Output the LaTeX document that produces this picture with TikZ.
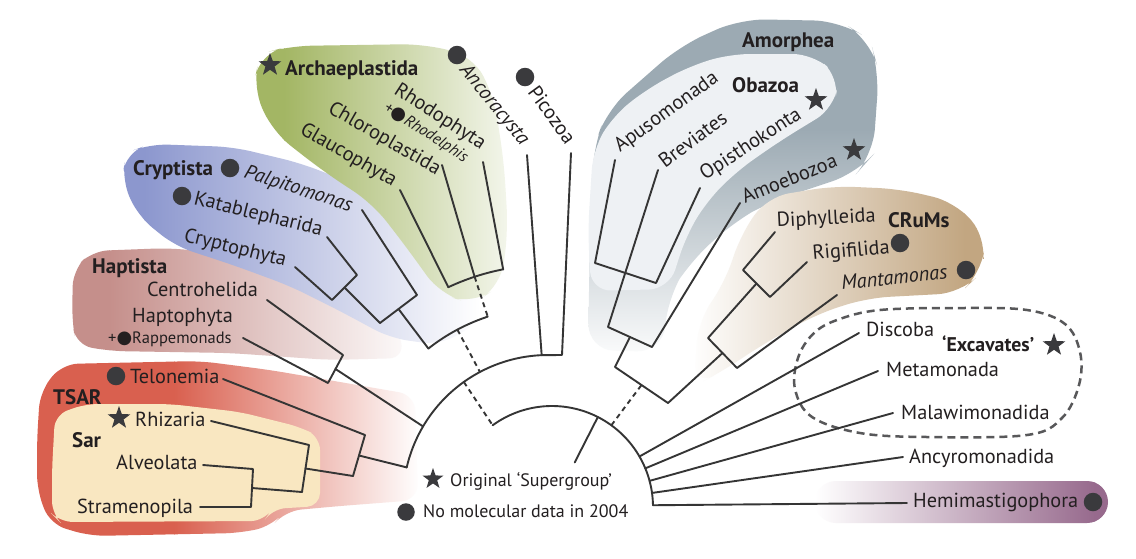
\documentclass[tikz,border=0pt]{standalone}
\usepackage{fontspec}
\setmainfont{PT Sans}
\newfontfamily\dejavu{DejaVu Sans}
\usetikzlibrary{shapes.geometric,calc}
\definecolor{ln}{HTML}{353535}
\definecolor{txt}{HTML}{231F20}
\definecolor{dk}{HTML}{3A3A3D}
\definecolor{tsarred}{HTML}{D9604F}
\definecolor{sarcream}{HTML}{F9E7C1}
\definecolor{hapt}{HTML}{C58F8B}
\definecolor{crypt}{HTML}{8C97CE}
\definecolor{arch}{HTML}{A3B664}
\definecolor{amorph}{HTML}{9CAAB3}
\definecolor{obaz}{HTML}{EEF1F4}
\definecolor{crums}{HTML}{C2A681}
\definecolor{hemi}{HTML}{976A8D}
\definecolor{exc}{HTML}{58585A}
\newcommand\bdot{{\dejavu\fontsize{18}{18}\selectfont ●}}
\begin{document}
\begin{tikzpicture}[x=1pt,y=-1pt,
  br/.style={draw=ln, line width=1.9pt, line cap=round, line join=round},
  dsh/.style={draw=ln, line width=1.9pt, dash pattern=on 5pt off 4pt},
  lab/.style={anchor=base west, inner sep=0pt, text=txt, font=\fontsize{20.3}{22}\selectfont},
  blab/.style={lab, font=\bfseries\fontsize{21}{23}\selectfont},
  ilab/.style={lab, font=\itshape\fontsize{20.3}{22}\selectfont},
  slab/.style={lab, font=\fontsize{16.5}{18}\selectfont},
  silab/.style={lab, font=\fontsize{16}{18}\selectfont},
  leg/.style={lab, font=\fontsize{18}{20}\selectfont},
  dot/.style={circle, fill=dk, inner sep=0pt, minimum size=18.5pt},
  stn/.style={star, star points=5, star point ratio=2.5, fill=dk, inner sep=0pt, minimum size=24pt},
]
\useasboundingbox (0,0) rectangle (1136,558);
\fill[white] (0,0) rectangle (1136,558);

% ---------- backgrounds ----------
% TSAR
\begin{scope}
\clip[rounded corners=16pt] (37,440) -- (40,392) -- (62,364) -- (200,361) -- (270,370) -- (340,382) -- (415,395) -- (418,500) -- (340,506) -- (285,511) -- (272,526) -- (240,533) -- (90,536) -- (50,524) -- (37,490) -- cycle;
\fill[tsarred] (0,340) rectangle (175,560);
\shade[left color=tsarred, right color=white] (174,340) rectangle (420,560);
\end{scope}
\fill[sarcream, rounded corners=13pt] (52,470) -- (55,415) -- (85,404) -- (170,404) -- (240,412) -- (300,427) -- (320,437) -- (320,506) -- (272,509) -- (264,521) -- (60,522) -- (52,514) -- cycle;
% Haptista
\begin{scope}
\clip[rounded corners=16pt] (72,320) -- (73,270) -- (92,251) -- (170,248) -- (235,255) -- (290,272) -- (340,292) -- (395,318) -- (405,358) -- (330,360) -- (230,353) -- (110,351) -- (76,345) -- cycle;
\fill[hapt] (0,240) rectangle (110,370);
\shade[left color=hapt, right color=white] (109,240) rectangle (420,370);
\end{scope}
% Cryptista
\begin{scope}
\clip[rounded corners=18pt] (122,180) -- (126,153) -- (150,144) -- (233,147) -- (300,163) -- (370,190) -- (440,225) -- (480,270) -- (480,322) -- (440,345) -- (390,338) -- (340,311) -- (290,286) -- (233,265) -- (175,246) -- (138,216) -- cycle;
\fill[crypt] (100,130) rectangle (145,360);
\shade[left color=crypt, right color=white] (144,130) rectangle (480,360);
\end{scope}
% Archaeplastida
\begin{scope}
\clip[rounded corners=22pt] (253,88) -- (260,54) -- (290,46) -- (423,44) -- (473,56) -- (494,97) -- (504,163) -- (508,230) -- (501,285) -- (473,304) -- (440,294) -- (407,248) -- (373,204) -- (323,171) -- (273,132) -- cycle;
\fill[arch] (240,30) rectangle (285,320);
\shade[left color=arch, right color=white!90!arch] (284,30) rectangle (515,320);
\end{scope}
% Amorphea
\begin{scope}
\clip[rounded corners=26pt] (588,350) -- (590,233) -- (593,150) -- (607,110) -- (680,46) -- (740,19) -- (840,21) -- (870,40) -- (879,72) -- (873,155) -- (857,173) -- (770,202) -- (735,221) -- (690,262) -- (668,297) -- (663,352) -- cycle;
\fill[amorph] (580,10) rectangle (890,130);
\shade[top color=amorph, bottom color=white] (580,129) rectangle (890,365);
\end{scope}
\fill[obaz, rounded corners=20pt] (591,291) -- (588,230) -- (593,150) -- (613,116) -- (647,89) -- (690,66) -- (730,54) -- (813,54) -- (839,77) -- (834,108) -- (780,141) -- (737,171) -- (707,201) -- (686,236) -- (669,289) -- cycle;
% CRuMs
\begin{scope}
\clip[rounded corners=22pt] (698,322) -- (726,280) -- (740,236) -- (767,197) -- (833,186) -- (900,189) -- (955,202) -- (986,237) -- (981,273) -- (960,293) -- (867,298) -- (817,314) -- (760,346) -- (723,371) -- (694,386) -- cycle;
\shade[left color=white, right color=crums] (690,180) rectangle (965,400);
\fill[crums] (964,180) rectangle (995,400);
\end{scope}
% Hemimastigophora
\begin{scope}
\clip[rounded corners=21pt] (815,481) rectangle (1108,523);
\shade[left color=white, right color=hemi] (815,475) rectangle (1095,530);
\fill[hemi] (1094,475) rectangle (1110,530);
\end{scope}
% Excavates outline
\draw[exc, line width=2.5pt, dash pattern=on 8pt off 5pt] plot[smooth cycle, tension=0.6] coordinates {(837,320) (880,310) (960,308) (1027,310) (1065,324) (1080,352) (1079,385) (1062,418) (1027,435) (927,437) (860,433) (812,417) (795,389) (798,358) (813,334)};

% ---------- tree coordinates ----------
\coordinate (oL) at ({548+145*cos(167)},{500-145*sin(167)});
\coordinate (oT) at ({548+145*cos(92.5)},{500-145*sin(92.5)});
\coordinate (hA) at ({548+145*cos(149.5)},{500-145*sin(149.5)});
\coordinate (oD1) at ({548+145*cos(125.5)},{500-145*sin(125.5)});
\coordinate (oD2) at ({548+145*cos(118)},{500-145*sin(118)});
\coordinate (cA) at ({548+193*cos(128.3)},{500-193*sin(128.3)});
\coordinate (cD) at ({548+193*cos(118)},{500-193*sin(118)});
\coordinate (cE) at ({548+193*cos(108.2)},{500-193*sin(108.2)});
\coordinate (arL) at ({548+235*cos(115.1)},{500-235*sin(115.1)});
\coordinate (arM) at ({548+235*cos(108.2)},{500-235*sin(108.2)});
\coordinate (arR) at ({548+235*cos(101)},{500-235*sin(101)});
\coordinate (iL) at ({552+101*cos(126)},{507-101*sin(126)});
\coordinate (iR) at ({552+101*cos(1)},{507-101*sin(1)});
\coordinate (root) at ({552+101*cos(63)},{507-101*sin(63)});
\coordinate (rootE) at ({552+50*cos(63)},{507-50*sin(63)});
\coordinate (iD) at ({552+101*cos(54)},{507-101*sin(54)});
\coordinate (iDis) at ({552+101*cos(30)},{507-101*sin(30)});
\coordinate (iMet) at ({552+101*cos(22.5)},{507-101*sin(22.5)});
\coordinate (iMal) at ({552+101*cos(15)},{507-101*sin(15)});
\coordinate (iAnc) at ({552+101*cos(8)},{507-101*sin(8)});

% TSAR
\coordinate (tel) at (223,379); \coordinate (tsarT) at (365,435); \coordinate (tsarB) at (353,476);
\coordinate (rhi) at (211,421); \coordinate (sarT) at (309,445); \coordinate (sarB) at (302,492);
\coordinate (alv) at (203,465); \coordinate (asT) at (253,469); \coordinate (asB) at (251,507);
\coordinate (str) at (200,507);
% Haptista
\coordinate (cen) at (267,300); \coordinate (hT) at (343,355); \coordinate (rap) at (243,338); \coordinate (hB) at (328,383);
% Cryptista
\coordinate (pal) at (362,210); \coordinate (cT) at (417,295); \coordinate (kat) at (327,237); \coordinate (kT) at (357,275);
\coordinate (cry) at (295,267); \coordinate (kB) at (332,300); \coordinate (cB) at (380,323);
% Archaeplastida
\coordinate (rho) at (483,162); \coordinate (chl) at (442,165); \coordinate (gla) at (400,190);
% Ancoracysta / Picozoa
\coordinate (anc) at (527,155); \coordinate (pic) at (571,153); \coordinate (pb) at (562,355);
% Amorphea
\coordinate (apu) at (615,160); \coordinate (apL) at (595,263); \coordinate (opi) at (700,188); \coordinate (apR) at (656,283);
\coordinate (bre) at (658,170); \coordinate (ambL) at (608,327); \coordinate (amo) at (740,203); \coordinate (ambR) at (652,347);
\coordinate (acL) at (615,367); \coordinate (acR) at (668,403);
% CRuMs
\coordinate (dip) at (775,232); \coordinate (dL) at (743,270); \coordinate (rig) at (807,262); \coordinate (dR) at (770,297);
\coordinate (man) at (837,295); \coordinate (cL) at (708,338); \coordinate (cR) at (737,368);
% Excavates etc.
\coordinate (dis) at (859,333); \coordinate (met) at (878,371); \coordinate (mal) at (893,413);
\coordinate (ancy) at (903,457); \coordinate (hem) at (907,503);

% ---------- tree ----------
\draw[br] plot[domain=167:92.5, samples=60] ({548+145*cos(\x)},{500-145*sin(\x)});
\draw[br] plot[domain=128.3:108.2, samples=30] ({548+193*cos(\x)},{500-193*sin(\x)});
\draw[br] plot[domain=115.1:101, samples=30] ({548+235*cos(\x)},{500-235*sin(\x)});
\draw[br] plot[domain=126:1, samples=80] ({552+101*cos(\x)},{507-101*sin(\x)});

\draw[br] (tel) -- (tsarT) -- (tsarB);
\draw[br] ($(tsarT)!0.5!(tsarB)$) -- (oL);
\draw[br] (rhi) -- (sarT) -- (sarB);
\draw[br] ($(sarT)!0.5!(sarB)$) -- (tsarB);
\draw[br] (alv) -- (asT) -- (asB) -- (str);
\draw[br] ($(asT)!0.5!(asB)$) -- (sarB);

\draw[br] (cen) -- (hT) -- (hB) -- (rap);
\draw[br] ($(hT)!0.5!(hB)$) -- (hA);

\draw[br] (pal) -- (cT) -- (cB);
\draw[br] (kat) -- (kT) -- (kB) -- (cry);
\draw[br] ($(kT)!0.5!(kB)$) -- (cB);
\draw[br] ($(cT)!0.5!(cB)$) -- (cA);
\draw[dsh] (cD) -- (oD2);

\draw[br] (rho) -- (arR);
\draw[br] (chl) -- (arM);
\draw[br] (gla) -- (arL);
\draw[dsh] (arM) -- (cE);

\draw[br] (anc) -- (oT) -- (pb) -- (pic);

\draw[dsh] (oD1) -- (iL);
\draw[br] (root) -- (rootE);

\draw[br] (apu) -- (apL) -- (apR) -- (opi);
\draw[br] (bre) -- (ambL) -- (ambR) -- (amo);
\draw[br] ($(ambL)!0.5!(ambR)$) -- (acL) -- (acR);
\draw[dsh] (iD) -- ($(acL)!0.5!(acR)$);

\draw[br] (dip) -- (dL) -- (dR) -- (rig);
\draw[br] ($(dL)!0.5!(dR)$) -- (cL) -- (cR) -- (man);
\draw[br] ($(cL)!0.5!(cR)$) -- (acR);

\draw[br] (iDis) -- (dis);
\draw[br] (iMet) -- (met);
\draw[br] (iMal) -- (mal);
\draw[br] (iAnc) -- (ancy);
\draw[br] (iR) -- (hem);

% ---------- labels ----------
\node[dot] (dtel) at (116,376) {};
\node[lab] (Ltel) at (130,383) {Telonemia};
\node[blab] (Ltsar) at (53,404) {TSAR};
\node[stn] (srhi) at (119,418) {};
\node[lab] (Lrhi) at (135,426) {Rhizaria};
\node[blab] (Lsar) at (72,447) {Sar};
\node[lab] (Lalv) at (116,469) {Alveolata};
\node[lab] (Lstr) at (77,513) {Stramenopila};

\node[blab] (Lhap) at (92,273) {Haptista};
\node[lab] (Lcen) at (147,296) {Centrohelida};
\node[lab] (Lhpt) at (132,322) {Haptophyta};
\node[slab] (Lrap) at (108,343) {+\bdot Rappemonads};

\node[blab] (Lcrt) at (133,175) {Cryptista};
\node[dot] (dpal) at (230,168) {};
\node[ilab, rotate=-18] (Lpal) at (243,177) {Palpitomonas};
\node[dot] (dkat) at (182,196) {};
\node[lab, rotate=-14] (Lkat) at (193,204) {Katablepharida};
\node[lab, rotate=-14] (Lcry) at (183,241) {Cryptophyta};

\node[stn] (sarc) at (270,65) {};
\node[blab] (Larc) at (285,75) {Archaeplastida};
\node[lab, rotate=-33] (Lrho) at (393,93) {Rhodophyta};
\node[silab, rotate=-33] (Lrhd) at (383,110) {+\bdot\itshape Rhodelphis};
\node[lab, rotate=-30] (Lchl) at (327,112) {Chloroplastida};
\node[lab, rotate=-30] (Lgla) at (299,133) {Glaucophyta};

\node[dot] (danc) at (457,55) {};
\node[ilab, rotate=-51] (Lanc) at (459,70) {Ancoracysta};
\node[dot] (dpic) at (525,77) {};
\node[lab, rotate=-54] (Lpic) at (527,92) {Picozoa};

\node[blab] (Lamp) at (742,47) {Amorphea};
\node[blab] (Loba) at (732,92) {Obazoa};
\node[stn] (soba) at (816,100) {};
\node[lab, rotate=36] (Lapu) at (620,153) {Apusomonada};
\node[lab, rotate=37] (Lbre) at (665,169) {Breviates};
\node[lab, rotate=33] (Lopi) at (705,181) {Opisthokonta};
\node[lab, rotate=22] (Lamo) at (745,204) {Amoebozoa};
\node[stn] (samo) at (854,150) {};

\node[lab, rotate=3] (Ldip) at (777,227) {Diphylleida};
\node[blab] (Lcru) at (888,227) {CRuMs};
\node[lab, rotate=5] (Lrig) at (813,260) {Rigifilida};
\node[dot] (drig) at (900,243) {};
\node[ilab, rotate=6] (Lman) at (842,290) {Mantamonas};
\node[dot] (dman) at (966,270) {};

\node[lab] (Ldis) at (866,336) {Discoba};
\node[blab, font=\bfseries\fontsize{19.8}{22}\selectfont] (Lexc) at (942,351) {‘Excavates’};
\node[stn] (sexc) at (1054,345) {};
\node[lab] (Lmet) at (886,376) {Metamonada};
\node[lab] (Lmal) at (901,419) {Malawimonadida};
\node[lab] (Lancy) at (909,463) {Ancyromonadida};
\node[lab] (Lhem) at (913,507) {Hemimastigophora};
\node[dot] (dhem) at (1093,502) {};

\node[stn, minimum size=22pt] (sleg) at (433,479) {};
\node[leg] (Lleg1) at (450,486) {Original ‘Supergroup’};
\node[dot, minimum size=17.5pt] (dleg) at (406,512) {};
\node[leg] (Lleg2) at (423,517) {No molecular data in 2004};
\end{tikzpicture}
\end{document}
